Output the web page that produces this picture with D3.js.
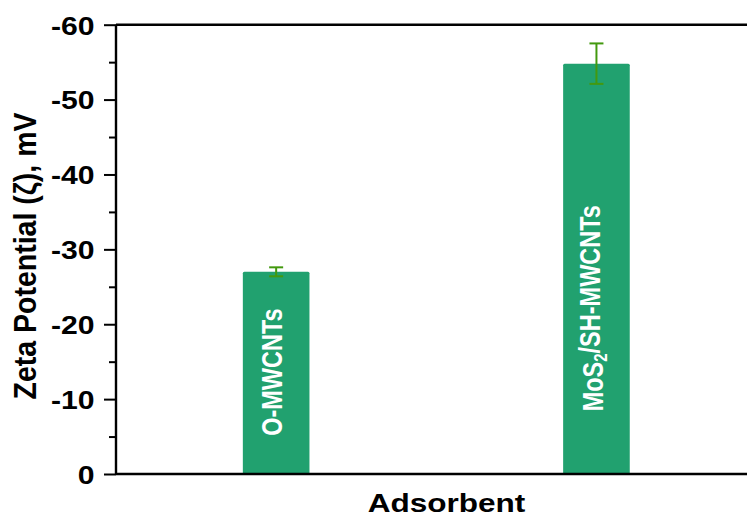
<!DOCTYPE html>
<html>
<head>
<meta charset="utf-8">
<script src="https://cdn.jsdelivr.net/npm/d3@7"></script>
<style>
  html, body { margin: 0; padding: 0; background: #fff; }
  svg { display: block; }
  text { font-family: "Liberation Sans", Arial, sans-serif; font-weight: bold; }
</style>
</head>
<body>
<svg id="chart" width="747" height="520"></svg>
<script>
// Zeta potential of the two adsorbents (mV) with standard deviations
const categories = ["O-MWCNTs", "MoS2/SH-MWCNTs"];
const zeta = [-27.0, -54.8];
const zetaErr = [0.6, 2.7];
const yTicks = [0, -10, -20, -30, -40, -50, -60];
const yMinorTicks = [-5, -15, -25, -35, -45, -55];

const W = 747, H = 520;
const plotLeft = 116, plotTop = 24.7, plotBottom = 474, plotRight = 756.6;

const svg = d3.select("#chart");

const y = d3.scaleLinear().domain([0, -60]).range([plotBottom, plotTop]);
const x = d3.scaleBand()
  .domain(categories)
  .range([plotLeft, plotRight])
  .paddingInner(0.792)
  .paddingOuter(0.396);

const barColor = "#21a16f";
const errColor = "#43990f";

// bars
svg.append("g").selectAll("rect")
  .data(categories)
  .join("rect")
  .attr("x", d => x(d))
  .attr("width", x.bandwidth())
  .attr("y", (d, i) => y(zeta[i]))
  .attr("height", (d, i) => y(0) - y(zeta[i]))
  .attr("rx", 1.5)
  .attr("fill", barColor);

// error bars
const eg = svg.append("g").attr("stroke", errColor).attr("stroke-width", 2).attr("fill", "none");
categories.forEach((c, i) => {
  const cx = x(c) + x.bandwidth() / 2;
  const y1 = y(zeta[i] - zetaErr[i]);
  const y2 = y(zeta[i] + zetaErr[i]);
  eg.append("line").attr("x1", cx).attr("x2", cx).attr("y1", y1).attr("y2", y2);
  eg.append("line").attr("x1", cx - 7).attr("x2", cx + 7).attr("y1", y1).attr("y2", y1);
  eg.append("line").attr("x1", cx - 7).attr("x2", cx + 7).attr("y1", y2).attr("y2", y2);
});

// labels written up the bars; fraction of bar height where each label is centred
const labelPos = [0.504, 0.404];
const lg = svg.append("g");
categories.forEach((c, i) => {
  const cx = x(c) + x.bandwidth() / 2;
  const cy = y(0) - (y(0) - y(zeta[i])) * labelPos[i];
  const t = lg.append("text")
    .attr("transform", `translate(${cx - 4},${cy}) rotate(-90) scale(1,1.22)`)
    .attr("text-anchor", "middle")
    .attr("dy", "0.36em")
    .attr("fill", "#fff")
    .attr("font-size", 23.5);
  const m = c.match(/^(.*?)(\d)(.*)$/);
  if (m) {
    t.append("tspan").text(m[1]);
    t.append("tspan").attr("font-size", 15).attr("dy", "0.25em").text(m[2]);
    t.append("tspan").attr("dy", "-0.25em").text(m[3]);
  } else {
    t.text(c);
  }
});

// left axis: major ticks with labels
const yAxis = d3.axisLeft(y).tickValues(yTicks).tickSize(12).tickPadding(6.5)
  .tickFormat(d => String(d));
const ga = svg.append("g").attr("transform", `translate(${plotLeft},0)`).call(yAxis);
ga.select(".domain").remove();
ga.selectAll(".tick line").attr("stroke", "#000").attr("stroke-width", 2);
ga.selectAll(".tick text")
  .attr("font-size", 26)
  .attr("fill", "#000")
  .attr("font-family", null)
  .attr("dy", "0.36em")
  .attr("transform", "scale(1.16,1)");

// minor ticks
const yMinor = d3.axisLeft(y).tickValues(yMinorTicks).tickSize(7).tickFormat("");
const gm = svg.append("g").attr("transform", `translate(${plotLeft},0)`).call(yMinor);
gm.select(".domain").remove();
gm.selectAll(".tick line").attr("stroke", "#000").attr("stroke-width", 2);

// frame lines
const fg = svg.append("g").attr("stroke", "#000").attr("stroke-width", 2.4);
fg.append("line").attr("x1", plotLeft).attr("x2", plotLeft).attr("y1", plotTop).attr("y2", plotBottom);
fg.append("line").attr("x1", plotLeft).attr("x2", W).attr("y1", y(-60)).attr("y2", y(-60));
fg.append("line").attr("x1", plotLeft).attr("x2", W).attr("y1", y(0)).attr("y2", y(0));

// axis titles
svg.append("text")
  .attr("transform", `translate(446.5,512.3) scale(1.19,1)`)
  .attr("text-anchor", "middle")
  .attr("font-size", 26.5)
  .text("Adsorbent");

svg.append("text")
  .attr("transform", `translate(25,256) rotate(-90) scale(1,1.08)`)
  .attr("text-anchor", "middle")
  .attr("dy", "0.36em")
  .attr("font-size", 28.5)
  .text("Zeta Potential (ζ), mV");
</script>
</body>
</html>
